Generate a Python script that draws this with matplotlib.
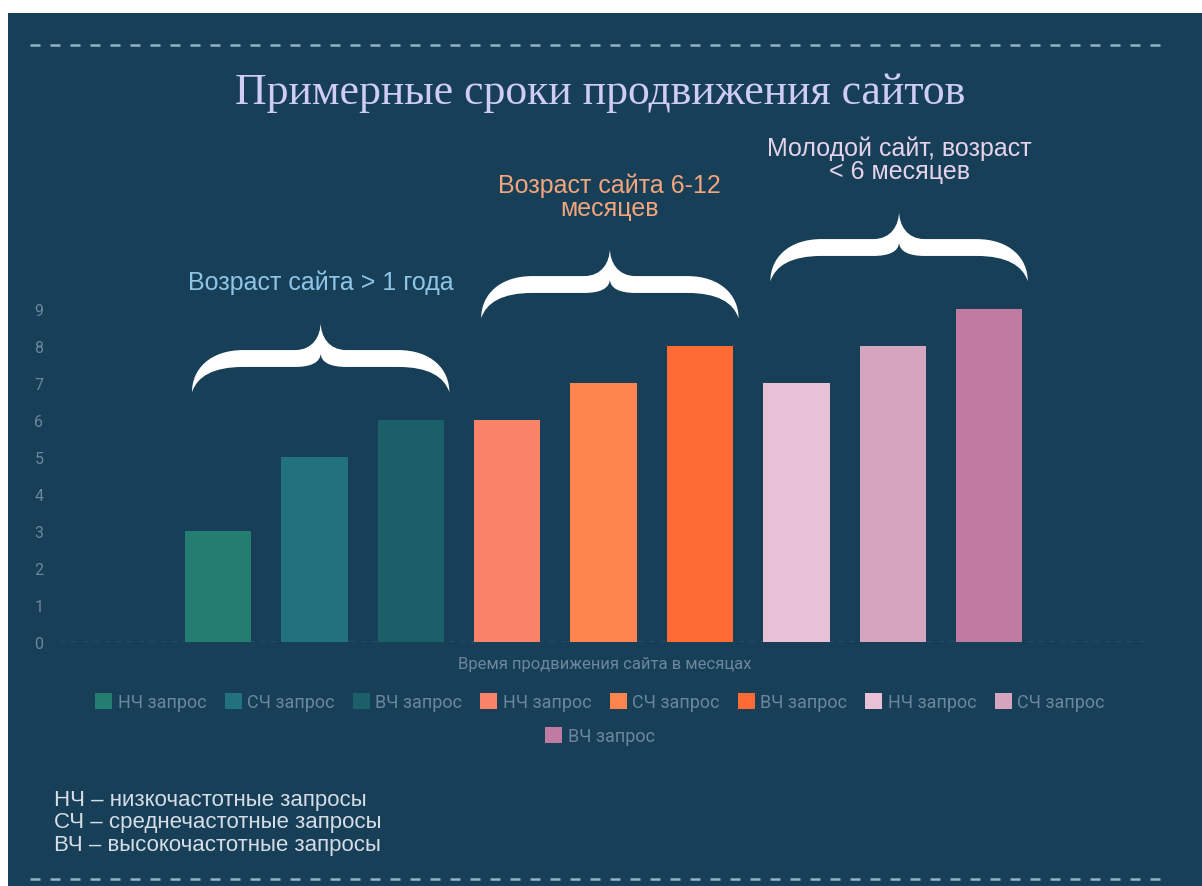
import numpy as np
import matplotlib
matplotlib.use("Agg")
import matplotlib.pyplot as plt
from matplotlib.path import Path
from matplotlib.patches import PathPatch, Rectangle

# data
months = [3, 5, 6, 6, 7, 8, 7, 8, 9]
series = ["НЧ запрос", "СЧ запрос", "ВЧ запрос"] * 3
colors = ["#237d70", "#22717f", "#1b5f69",
          "#f98368", "#fe844e", "#fd6a33",
          "#e8c1d6", "#d5a5bf", "#c07ba0"]
groups = ["Возраст сайта > 1 года",
          "Возраст сайта 6-12\nмесяцев",
          "Молодой сайт, возраст\n< 6 месяцев"]
group_colors = ["#8ec5e6", "#f3a57c", "#e6d3ea"]
y_ticks = list(range(0, 10))
title = "Примерные сроки продвижения сайтов"
xlabel = "Время продвижения сайта в месяцах"
notes = ["НЧ – низкочастотные запросы",
         "СЧ – среднечастотные запросы",
         "ВЧ – высокочастотные запросы"]

BG = "#173f58"
MUTED = "#6b879c"
W, H = 1202, 887

fig = plt.figure(figsize=(W / 100, H / 100), dpi=100)
fig.patch.set_facecolor("white")
# dark panel
fig.patches.append(Rectangle((8 / W, 0), 1 - 8 / W, 1 - 14 / H, transform=fig.transFigure,
                             facecolor=BG, edgecolor="none", zorder=-10))
# dashed separators
for yy in (46, 880):
    fig.add_artist(plt.Line2D([30 / W, 1168 / W], [1 - yy / H] * 2, transform=fig.transFigure,
                              color="#8fb3c9", lw=1.8, ls=(0, (4, 4))))

fig.text(600 / W, 1 - 93 / H, title, ha="center", va="center", color="#cfcdf3",
         fontsize=31.5, family="Liberation Serif")

# axes: y=0 at px 643, y=9 at px 310
ax_l, ax_r = 60, 1150
y0, y9 = 643, 310
top_px = 300
ax = fig.add_axes([ax_l / W, 1 - y0 / H, (ax_r - ax_l) / W, (y0 - top_px) / H])
ax.set_facecolor("none")
step = 96.4
x = np.arange(len(months))
ax.set_xlim(-(218 - ax_l) / step, (ax_r - 218) / step)
ax.set_ylim(0, 9 * (y0 - top_px) / (y0 - y9))

bars = ax.bar(x, months, width=0.69, color=colors, zorder=2)
for s in ax.spines.values():
    s.set_visible(False)
ax.axhline(0, color="#5f86a0", lw=1, ls=(0, (4, 4)), zorder=1)
ax.set_xticks([])
ax.set_yticks(y_ticks)
ax.tick_params(axis="y", length=0, pad=12, colors=MUTED, labelsize=11.5)
for t in ax.get_yticklabels():
    t.set_family("Roboto")
ax.set_xlabel(xlabel, color=MUTED, fontsize=12, family="Roboto", labelpad=10)

# curly braces above each group
def brace(ax, x0, x1, yb, h):
    top = [(0, 0), (0.0, 0.33), (0.07, 0.6), (0.2, 0.6),
           (0.4, 0.6), (0.47, 0.6), (0.5, 0.8), (0.5, 1.0),
           (0.5, 0.8), (0.53, 0.6), (0.6, 0.6),
           (0.8, 0.6), (0.93, 0.6), (1.0, 0.33), (1.0, 0.0),
           (0.98, 0.22), (0.92, 0.36), (0.8, 0.36),
           (0.6, 0.36), (0.54, 0.36), (0.5, 0.42), (0.5, 0.56),
           (0.5, 0.42), (0.46, 0.36), (0.4, 0.36),
           (0.2, 0.36), (0.08, 0.36), (0.02, 0.22), (0, 0), (0, 0)]
    codes = [Path.MOVETO, Path.CURVE4, Path.CURVE4, Path.CURVE4,
             Path.LINETO, Path.CURVE4, Path.CURVE4, Path.CURVE4,
             Path.CURVE4, Path.CURVE4, Path.CURVE4,
             Path.LINETO, Path.CURVE4, Path.CURVE4, Path.CURVE4,
             Path.CURVE4, Path.CURVE4, Path.CURVE4,
             Path.LINETO, Path.CURVE4, Path.CURVE4, Path.CURVE4,
             Path.CURVE4, Path.CURVE4, Path.CURVE4,
             Path.LINETO, Path.CURVE4, Path.CURVE4, Path.CURVE4, Path.CLOSEPOLY]
    pts = np.array(top, dtype=float)
    pts[:, 0] = x0 + pts[:, 0] * (x1 - x0)
    pts[:, 1] = yb + pts[:, 1] * h
    ax.add_patch(PathPatch(Path(pts, codes), facecolor="white", edgecolor="none",
                           clip_on=False, zorder=3))

for g in range(3):
    idx = slice(3 * g, 3 * g + 3)
    top_val = max(months[idx])
    x0 = x[3 * g] - 0.27
    x1 = x[3 * g + 2] + 0.4
    yb = top_val + 0.75
    brace(ax, x0, x1, yb, 1.9)
    ax.text((x0 + x1) / 2, yb + 1.9 + 0.75, groups[g], ha="center", va="bottom",
            color=group_colors[g], fontsize=18, family="Liberation Sans",
            linespacing=0.95, clip_on=False)

# legend: 8 in first row, rest centered underneath
handles = list(bars.patches)
prop = {"family": "Roboto", "size": 13}
leg1 = fig.legend(handles[:8], series[:8], loc="center", bbox_to_anchor=(600 / W, 1 - 703 / H),
                  ncol=8, frameon=False, handlelength=0.95, handleheight=0.95,
                  handletextpad=0.3, columnspacing=1.0, prop=prop)
leg2 = fig.legend(handles[8:], series[8:], loc="center", bbox_to_anchor=(600 / W, 1 - 737 / H),
                  ncol=1, frameon=False, handlelength=0.95, handleheight=0.95,
                  handletextpad=0.3, prop=prop)
for lg in (leg1, leg2):
    for t in lg.get_texts():
        t.set_color(MUTED)

fig.text(54 / W, 1 - 823 / H, "\n".join(notes), ha="left", va="center", color="#d6dde6",
         fontsize=16, family="Liberation Sans", linespacing=1.08)

fig.savefig("out.png", dpi=100, facecolor=fig.get_facecolor())
